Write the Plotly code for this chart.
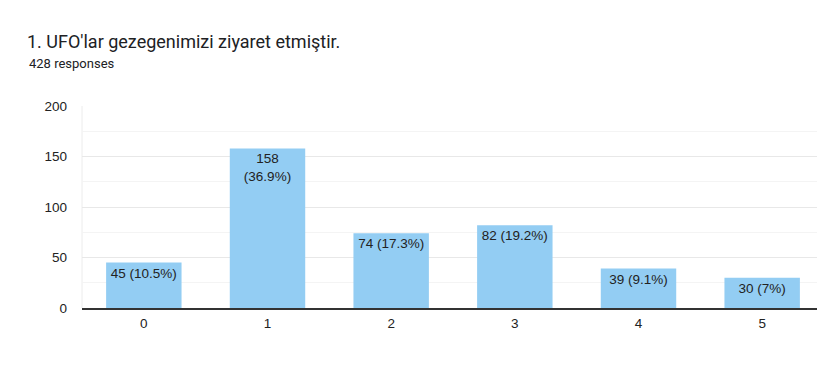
import plotly.graph_objects as go

categories = ["0", "1", "2", "3", "4", "5"]
counts = [45, 158, 74, 82, 39, 30]
labels = ["45 (10.5%)", "158<br>(36.9%)", "74 (17.3%)", "82 (19.2%)", "39 (9.1%)", "30 (7%)"]
title_text = "1. UFO'lar gezegenimizi ziyaret etmiştir."
subtitle_text = "428 responses"
y_ticks = [0, 50, 100, 150, 200]

# page has an 8px body margin; figure coords = page coords - 8
W, H = 817, 384
L, R, T, B = 74, 1, 98, 84
pw = W - L - R
ph = H - T - B

fig = go.Figure(go.Bar(
    x=categories, y=counts, text=labels,
    textposition="inside", insidetextanchor="end", textangle=0,
    constraintext="none",
    textfont=dict(family="Liberation Sans, Arial", size=13.5, color="#222222"),
    marker=dict(color="#93cdf3", line=dict(width=0)),
    hoverinfo="skip",
))

fig.update_layout(
    width=W, height=H,
    margin=dict(l=L, r=R, t=T, b=B),
    paper_bgcolor="white", plot_bgcolor="white",
    bargap=0.39,
    showlegend=False,
    font=dict(family="Liberation Sans, Arial", size=13.5, color="#222222"),
    title=dict(text=title_text, x=19 / W, xanchor="left", xref="container",
               y=1 - 34 / H, yanchor="middle", yref="container",
               font=dict(family="Roboto", size=18, color="#202124")),
    xaxis=dict(showgrid=False, showline=True, linecolor="#333333", linewidth=1.5,
               ticks="", ticklabelstandoff=2,
               tickfont=dict(size=13.5, color="#222222"), fixedrange=True),
    yaxis=dict(range=[0, 200], tickvals=y_ticks, showgrid=True, gridcolor="#e8e8e8",
               gridwidth=1, zeroline=False, showline=False, ticks="",
               ticklabelstandoff=14,
               tickfont=dict(size=13.5, color="#222222"),
               minor=dict(dtick=25, showgrid=True, gridcolor="#f4f4f4", gridwidth=1)),
    shapes=[
        dict(type="line", xref="paper", yref="paper", x0=0, x1=0, y0=0, y1=1,
             line=dict(color="#ececec", width=1), layer="below"),
        dict(type="line", xref="paper", yref="paper", x0=1, x1=1, y0=0, y1=1,
             line=dict(color="#ececec", width=1), layer="below"),
    ],
    annotations=[dict(text=subtitle_text, xref="paper", yref="paper",
                      x=(19 - L) / pw, y=(H - B - 55) / ph, xanchor="left", yanchor="middle",
                      showarrow=False,
                      font=dict(family="Roboto", size=13, color="#202124"))],
)

fig.write_html("out.html")
